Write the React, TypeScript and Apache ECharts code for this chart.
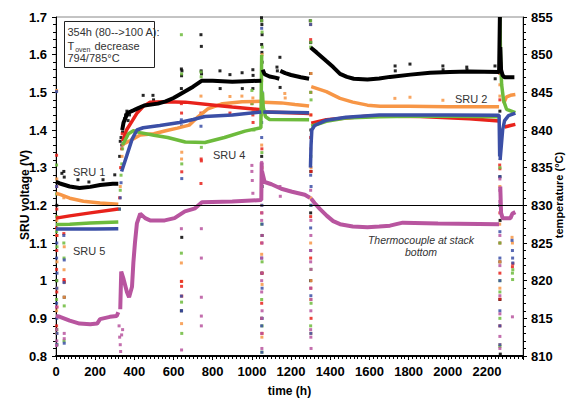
import React, { useEffect, useRef } from "react";
import * as echarts from "echarts";

type P = [number, number];

// Time axis (h) and tick settings
const timeTicks = { min: 0, max: 2384, step: 200 };
const voltTicks = { min: 0.8, max: 1.7, step: 0.1 };
const tempTicks = { min: 810, max: 855, step: 5 };

// SRU 1 (black) voltage, split at the interruptions
const sru1: P[][] = [
  [[0, 1.262], [20, 1.258], [70, 1.25], [120, 1.246], [175, 1.249], [225, 1.254], [290, 1.257], [318, 1.257]],
  [[338, 1.4], [345, 1.42], [365, 1.445], [395, 1.452], [420, 1.458], [450, 1.465], [520, 1.47], [560, 1.476], [600, 1.485], [640, 1.497], [700, 1.515], [745, 1.531], [800, 1.531], [900, 1.528], [1000, 1.53], [1048, 1.531]],
  [[1055, 1.56], [1065, 1.548], [1090, 1.542], [1120, 1.539], [1140, 1.536]],
  [[1145, 1.557], [1170, 1.551], [1200, 1.546], [1250, 1.54], [1292, 1.536]],
  [[1300, 1.619], [1330, 1.606], [1380, 1.583], [1415, 1.567], [1450, 1.549], [1485, 1.541], [1520, 1.536], [1590, 1.534], [1650, 1.537], [1705, 1.541], [1810, 1.547], [1910, 1.552], [2010, 1.554], [2110, 1.555], [2262, 1.554], [2266, 1.7]],
  [[2268, 1.62], [2272, 1.56], [2280, 1.545], [2290, 1.54], [2340, 1.54]],
];

// SRU 2 (orange)
const sru2: P[][] = [
  [[0, 1.232], [20, 1.229], [70, 1.219], [140, 1.211], [225, 1.206], [318, 1.203]],
  [[340, 1.362], [380, 1.372], [430, 1.387], [500, 1.39], [560, 1.398], [620, 1.405], [680, 1.413], [725, 1.435], [775, 1.456], [850, 1.47], [950, 1.475], [1048, 1.476]],
  [[1058, 1.474], [1150, 1.472], [1220, 1.468], [1292, 1.464]],
  [[1303, 1.515], [1380, 1.502], [1450, 1.484], [1515, 1.474], [1590, 1.466], [1655, 1.463], [1800, 1.463], [2000, 1.462], [2262, 1.462]],
  [[2285, 1.47], [2300, 1.488], [2320, 1.492], [2345, 1.494]],
];

// SRU 3 (red)
const sru3: P[][] = [
  [[0, 1.166], [70, 1.172], [175, 1.18], [318, 1.19]],
  [[340, 1.37], [360, 1.4], [390, 1.425], [415, 1.446], [445, 1.462], [480, 1.474], [560, 1.475], [660, 1.474], [810, 1.466], [900, 1.461], [1048, 1.454]],
  [[1058, 1.448], [1200, 1.446], [1292, 1.444]],
  [[1303, 1.418], [1380, 1.427], [1480, 1.432], [1600, 1.437], [1860, 1.436], [2110, 1.43], [2262, 1.424]],
  [[2290, 1.408], [2320, 1.412], [2345, 1.415]],
];

// SRU 4 (green)
const sru4: P[][] = [
  [[0, 1.149], [70, 1.15], [175, 1.153], [318, 1.156]],
  [[340, 1.36], [370, 1.39], [395, 1.398], [430, 1.393], [500, 1.386], [570, 1.38], [660, 1.368], [760, 1.367], [860, 1.38], [965, 1.397], [1046, 1.406], [1050, 1.6]],
  [[1054, 1.5], [1058, 1.46], [1070, 1.435], [1090, 1.428], [1292, 1.427]],
  [[1303, 1.41], [1380, 1.423], [1480, 1.432], [1650, 1.435], [1900, 1.437], [2262, 1.435]],
  [[2266, 1.7], [2270, 1.58], [2275, 1.52], [2285, 1.478], [2300, 1.455], [2345, 1.446]],
];

// SRU 5 (blue)
const sru5: P[][] = [
  [[0, 1.137], [100, 1.137], [200, 1.137], [318, 1.138]],
  [[335, 1.29], [360, 1.33], [388, 1.375], [413, 1.4], [445, 1.406], [530, 1.412], [630, 1.42], [700, 1.428], [760, 1.436], [900, 1.44], [1048, 1.448]],
  [[1058, 1.448], [1292, 1.446]],
  [[1299, 1.3], [1302, 1.36], [1306, 1.4], [1320, 1.412], [1380, 1.426], [1480, 1.434], [1650, 1.44], [2000, 1.44], [2262, 1.439], [2265, 1.33]],
  [[2267, 1.32], [2280, 1.4], [2290, 1.425], [2310, 1.438], [2345, 1.445]],
];

// Thermocouple at stack bottom (°C, right axis)
const thermo: P[][] = [
  [[0, 815.3], [20, 815.2], [70, 814.7], [120, 814.3], [175, 814.2], [210, 814.3], [225, 814.9], [275, 815.2], [310, 815.3], [318, 815.8]],
  [[328, 816.2], [333, 821.2], [345, 820.2], [362, 818.5], [373, 817.8], [388, 819.2], [395, 822.4], [403, 825], [413, 827.6], [430, 828.9], [455, 828.3], [480, 828], [555, 828], [605, 828.3], [658, 829.2], [710, 829.6], [745, 830.4], [900, 830.5], [1048, 830.7], [1050, 835.7]],
  [[1052, 834.5], [1065, 833.1], [1100, 832.8], [1150, 832.2], [1205, 831.8], [1270, 831.4], [1296, 831]],
  [[1302, 830.9], [1320, 830.3], [1348, 829.5], [1383, 828.6], [1415, 827.9], [1450, 827.5], [1515, 827.2], [1590, 827.1], [1650, 827.2], [1705, 827.3], [1770, 827.7], [1950, 827.6], [2262, 827.5]],
  [[2268, 832.5], [2272, 829], [2280, 828.3], [2320, 828.3], [2330, 828.9], [2345, 829.1]],
];

// Scattered readings around start-ups, load changes and interruptions
const sru1Dots: P[] = [
  [30, 1.285], [40, 1.29], [42, 1.275], [112, 1.268], [168, 1.262], [240, 1.268], [300, 1.281], [42, 0.956],
  [4, 1.2], [3, 1.0], [3, 0.87],
  [325, 1.33], [328, 1.37], [332, 1.38], [336, 1.36], [340, 1.395], [350, 1.43], [355, 1.44], [362, 1.45], [368, 1.425], [375, 1.44],
  [445, 1.492], [495, 1.492], [498, 1.48],
  [640, 1.562], [643, 1.557], [641, 1.544], [640, 1.51], [642, 1.115], [640, 0.92],
  [740, 1.653], [742, 1.622], [741, 1.557], [743, 1.549],
  [837, 1.557], [838, 1.51], [888, 1.547], [950, 1.552], [951, 1.51], [1005, 1.56], [1006, 1.545], [1004, 1.531], [1005, 1.51],
  [1049, 1.698], [1050, 1.69], [1051, 1.68], [1052, 1.653], [1050, 1.627], [1051, 1.606], [1052, 1.58], [1050, 1.45], [1050, 1.33], [1051, 1.25], [1052, 1.12], [1051, 1.02], [1050, 0.9],
  [1128, 1.567], [1130, 1.557], [1143, 1.593], [1144, 1.513],
  [1298, 1.69], [1299, 1.68], [1300, 1.632], [1300, 1.55], [1301, 1.4], [1301, 1.29], [1300, 1.18], [1300, 1.0],
  [1731, 1.57], [1732, 1.557], [1807, 1.575], [1975, 1.57], [1976, 1.56], [2097, 1.567], [2098, 1.56], [2241, 1.57], [2242, 1.536],
  [2266, 1.45], [2265, 1.35], [2266, 1.276], [2267, 1.16], [2266, 1.05], [2266, 0.95], [2268, 0.805],
];

const sru2Dots: P[] = [
  [3, 1.505], [4, 1.27], [4, 1.16], [3, 1.12], [5, 1.05], [4, 0.98], [3, 0.92], [3, 0.86],
  [40, 1.22], [42, 1.09], [41, 1.029], [43, 0.995], [42, 0.956],
  [324, 1.19], [328, 1.25], [333, 1.3], [337, 1.33], [341, 1.36],
  [640, 1.497], [642, 1.341], [641, 1.323], [640, 1.047], [642, 0.998], [641, 0.886],
  [740, 1.49], [888, 1.489], [949, 1.49], [1005, 1.485], [1006, 1.45], [1168, 1.497], [1170, 1.485],
  [1050, 1.531], [1052, 1.6], [1051, 1.44], [1050, 1.36], [1052, 1.3], [1050, 1.2], [1050, 1.07], [1052, 0.99], [1050, 0.9], [1051, 0.85],
  [1300, 1.68], [1302, 1.55], [1301, 1.44], [1300, 1.35], [1302, 1.3], [1300, 1.22], [1300, 1.1], [1302, 1.0], [1300, 0.95], [1301, 0.86],
  [1730, 1.484], [1807, 1.487], [1975, 1.479],
  [2265, 1.68], [2265, 1.64], [2266, 1.6], [2266, 1.52], [2266, 1.49], [2266, 1.4], [2266, 1.25], [2265, 1.15], [2266, 1.05], [2266, 0.98], [2266, 0.83],
  [2328, 1.115], [2330, 1.1],
];

const sru3Dots: P[] = [
  [3, 1.333], [4, 1.25], [4, 1.19], [3, 1.14], [5, 1.12], [4, 1.08], [3, 1.03], [4, 0.97], [5, 0.93], [3, 0.88],
  [40, 1.125], [42, 0.998], [41, 1.003],
  [325, 1.22], [330, 1.3], [335, 1.35], [338, 1.39],
  [640, 1.47], [641, 1.445], [642, 1.289], [640, 0.998], [641, 0.985], [642, 0.959],
  [740, 1.445], [741, 1.323], [742, 1.318], [740, 1.258],
  [888, 1.445], [1005, 1.44], [1006, 1.42], [1000, 1.47],
  [1050, 1.55], [1051, 1.47], [1051, 1.35], [1052, 1.28], [1050, 1.18], [1050, 1.1], [1052, 1.02], [1050, 0.94], [1052, 0.86],
  [1300, 1.64], [1301, 1.5], [1301, 1.44], [1300, 1.38], [1302, 1.29], [1300, 1.17], [1300, 1.06], [1301, 0.98], [1302, 0.9],
  [2265, 1.66], [2266, 1.55], [2266, 1.48], [2266, 1.38], [2265, 1.307], [2266, 1.297], [2266, 1.18], [2266, 1.1], [2266, 1.02], [2266, 0.951], [2266, 0.88],
  [2330, 1.037], [2332, 1.045],
];

const sru4Dots: P[] = [
  [3, 1.307], [3, 1.23], [4, 1.17], [3, 1.13], [5, 1.09], [4, 1.0], [3, 0.95], [4, 0.87], [5, 0.83],
  [40, 1.1], [41, 1.06], [42, 0.933], [41, 0.84],
  [324, 1.19], [328, 1.24], [332, 1.28], [336, 1.31], [340, 1.35],
  [640, 1.653], [641, 1.549], [642, 1.31], [640, 1.073], [641, 0.943], [642, 0.86],
  [740, 1.554], [741, 1.541], [742, 1.354],
  [1000, 1.505], [1001, 1.47], [1002, 1.445], [1010, 1.4],
  [1050, 1.69], [1052, 1.66], [1053, 1.62], [1050, 1.47], [1051, 1.34], [1051, 1.25], [1050, 1.15], [1052, 1.05], [1050, 0.95], [1052, 0.88], [1051, 0.81],
  [1300, 1.69], [1301, 1.633], [1300, 1.62], [1300, 1.5], [1302, 1.48], [1301, 1.33], [1300, 1.2], [1301, 1.03], [1302, 0.94], [1300, 0.88],
  [2266, 1.3], [2266, 1.2], [2266, 1.1], [2266, 1.0], [2266, 0.97], [2266, 0.9], [2266, 0.825],
  [2330, 1.02], [2331, 1.003], [2332, 1.029],
];

const sru5Dots: P[] = [
  [3, 1.502], [3, 1.25], [4, 1.1], [3, 1.06], [5, 1.02], [4, 0.98], [3, 0.94], [4, 0.9], [5, 0.86], [4, 0.83],
  [40, 1.12], [42, 1.055], [41, 0.995], [42, 0.834],
  [324, 1.19], [328, 1.22], [332, 1.26],
  [640, 1.427], [641, 1.411], [642, 1.271], [640, 0.959], [641, 0.92],
  [740, 1.41],
  [1050, 1.67], [1052, 1.5], [1050, 1.42], [1050, 1.38], [1051, 1.25], [1051, 1.2], [1052, 1.15], [1050, 1.06], [1052, 0.98], [1052, 0.9], [1050, 0.88], [1051, 0.81],
  [1300, 1.68], [1300, 1.28], [1302, 1.25], [1302, 1.2], [1300, 1.14], [1300, 1.08], [1301, 0.96], [1301, 0.86],
  [2265, 1.66], [2266, 1.276], [2266, 1.2], [2266, 1.13], [2266, 1.06], [2266, 1.0], [2266, 0.92], [2266, 0.88], [2266, 0.83],
  [2328, 1.107], [2330, 1.08], [2331, 1.06], [2332, 1.047],
];

const thermoDots: P[] = [
  [3, 816.5], [3, 813.5], [4, 812], [3, 811.4],
  [42, 812.3], [42, 813],
  [322, 814], [325, 812.5], [328, 811.5], [330, 810.6], [335, 812.8], [340, 813.5],
  [640, 826.9], [641, 810.8],
  [742, 826.9], [742, 823], [742, 817.8], [742, 815.3], [742, 814],
  [1000, 835.3], [1000, 834.5], [1002, 833.3], [1005, 831.6],
  [1050, 835.7], [1051, 834.5], [1051, 829], [1050, 828], [1052, 826], [1052, 825], [1050, 823], [1051, 821], [1050, 820], [1050, 818.5], [1052, 816], [1050, 815], [1050, 813], [1051, 811],
  [1143, 832.5], [1145, 831.2],
  [1300, 832], [1301, 828], [1301, 826], [1300, 824], [1300, 822.5], [1302, 821.5], [1300, 819], [1302, 817.5], [1301, 816], [1300, 813.5], [1301, 812.5], [1302, 811],
  [2266, 833.5], [2266, 832], [2266, 830.5], [2266, 826], [2266, 822], [2266, 818], [2266, 815.6], [2266, 812.6], [2266, 811],
  [2330, 815.2],
];

const referenceVoltage = 1.2;

const COLORS = {
  sru1: "#000000",
  sru2: "#f79646",
  sru3: "#e8221b",
  sru4: "#6dbb3c",
  sru5: "#3b4fa6",
  thermo: "#b8559f",
};

const FONT = "'Liberation Sans', Arial, sans-serif";

function joinSegments(segs: P[][]): (number | string)[][] {
  const out: (number | string)[][] = [];
  segs.forEach((seg, i) => {
    if (i > 0) {
      const prev = segs[i - 1];
      out.push([(prev[prev.length - 1][0] + seg[0][0]) / 2, "-"]);
    }
    seg.forEach((p) => out.push([p[0], p[1]]));
  });
  return out;
}

function lineSeries(name: string, segs: P[][], color: string, width: number, yAxisIndex = 0, extra: any = {}) {
  return {
    name,
    type: "line",
    yAxisIndex,
    data: joinSegments(segs),
    showSymbol: false,
    connectNulls: false,
    lineStyle: { color, width },
    itemStyle: { color },
    silent: true,
    ...extra,
  };
}

function dotSeries(name: string, pts: P[], color: string, yAxisIndex = 0) {
  return {
    name,
    type: "scatter",
    yAxisIndex,
    data: pts,
    symbol: "rect",
    symbolSize: 3,
    itemStyle: { color, opacity: 0.85 },
    silent: true,
  };
}

const tickLabel = { fontFamily: FONT, fontWeight: "bold" as const, fontSize: 13, color: "#000" };

export default function App() {
  const ref = useRef<HTMLDivElement>(null);

  useEffect(() => {
    if (!ref.current) return;
    const chart = echarts.init(ref.current, null, { renderer: "svg" });

    chart.setOption({
      animation: false,
      backgroundColor: "#ffffff",
      grid: { left: 56, right: 43, top: 17, bottom: 39, show: true, borderColor: "#888", borderWidth: 1 },
      xAxis: {
        type: "value",
        min: timeTicks.min,
        max: timeTicks.max,
        interval: timeTicks.step,
        name: "time (h)",
        nameLocation: "middle",
        nameGap: 29,
        nameTextStyle: { fontFamily: FONT, fontWeight: "bold", fontSize: 12, color: "#000" },
        axisLine: { lineStyle: { color: "#000", width: 2 } },
        axisTick: { length: 4, lineStyle: { color: "#000" } },
        minorTick: { show: true, splitNumber: 10, length: 3, lineStyle: { color: "#000" } },
        splitLine: { show: false },
        axisLabel: {
          ...tickLabel,
          margin: 9,
          formatter: (v: number) => (v % timeTicks.step === 0 ? String(v) : ""),
        },
      },
      yAxis: [
        {
          type: "value",
          min: voltTicks.min,
          max: voltTicks.max,
          interval: voltTicks.step,
          axisLine: { show: true, lineStyle: { color: "#000", width: 1 } },
          axisTick: { show: true, length: 4, lineStyle: { color: "#000" } },
          minorTick: { show: true, splitNumber: 5, length: 3, lineStyle: { color: "#000" } },
          splitLine: { show: false },
          axisLabel: { ...tickLabel, margin: 9 },
        },
        {
          type: "value",
          position: "right",
          min: tempTicks.min,
          max: tempTicks.max,
          interval: tempTicks.step,
          axisLine: { show: true, lineStyle: { color: "#000", width: 1 } },
          axisTick: { show: true, length: 4, lineStyle: { color: "#000" } },
          minorTick: { show: true, splitNumber: 5, length: 3, lineStyle: { color: "#000" } },
          splitLine: { show: false },
          axisLabel: { ...tickLabel, margin: 8 },
        },
      ],
      series: [
        dotSeries("SRU 1 dots", sru1Dots, COLORS.sru1),
        dotSeries("SRU 2 dots", sru2Dots, COLORS.sru2),
        dotSeries("SRU 3 dots", sru3Dots, COLORS.sru3),
        dotSeries("SRU 4 dots", sru4Dots, COLORS.sru4),
        dotSeries("SRU 5 dots", sru5Dots, COLORS.sru5),
        dotSeries("Thermocouple dots", thermoDots, COLORS.thermo, 1),
        lineSeries("Thermocouple", thermo, COLORS.thermo, 4, 1),
        lineSeries("SRU 2", sru2, COLORS.sru2, 3.5),
        lineSeries("SRU 3", sru3, COLORS.sru3, 3.5),
        lineSeries("SRU 4", sru4, COLORS.sru4, 3.5),
        lineSeries("SRU 5", sru5, COLORS.sru5, 3.5),
        lineSeries("SRU 1", sru1, COLORS.sru1, 4, 0, {
          markLine: {
            silent: true,
            symbol: "none",
            label: { show: false },
            lineStyle: { color: "#000", width: 1, type: "solid" },
            data: [{ yAxis: referenceVoltage }],
            z: 10,
          },
        }),
      ],
      graphic: [
        {
          type: "group",
          left: 64,
          top: 21,
          children: [
            { type: "rect", shape: { x: 0, y: 0, width: 90, height: 46 }, style: { fill: "#fff", stroke: "#222", lineWidth: 1 } },
            { type: "text", x: 3, y: 5, style: { text: "354h (80-->100 A):", font: `11px ${FONT}`, fill: "#333" } },
            {
              type: "text",
              x: 3,
              y: 18,
              style: {
                text: "T{s|oven} decrease",
                font: `11px ${FONT}`,
                fill: "#333",
                rich: { s: { fontSize: 7, fontFamily: FONT, fill: "#333", padding: [6, 1, 0, 1] } },
              },
            },
            { type: "text", x: 3, y: 31, style: { text: "794/785°C", font: `11px ${FONT}`, fill: "#333" } },
          ],
        },
        { type: "text", x: 73, y: 166, style: { text: "SRU 1", font: `11px ${FONT}`, fill: "#333" } },
        { type: "text", x: 73, y: 245, style: { text: "SRU 5", font: `11px ${FONT}`, fill: "#333" } },
        { type: "text", x: 213, y: 149, style: { text: "SRU 4", font: `11px ${FONT}`, fill: "#333" } },
        { type: "text", x: 455, y: 93, style: { text: "SRU 2", font: `11px ${FONT}`, fill: "#333" } },
        {
          type: "text",
          x: 421,
          y: 234,
          style: {
            text: "Thermocouple at stack\nbottom",
            font: `italic 10.5px ${FONT}`,
            fill: "#333",
            align: "center",
            lineHeight: 12,
          },
        },
        {
          type: "text",
          x: 25,
          y: 195,
          rotation: Math.PI / 2,
          style: { text: "SRU voltage (V)", font: `bold 12px ${FONT}`, fill: "#000", align: "center", verticalAlign: "middle" },
        },
        {
          type: "text",
          x: 559,
          y: 195,
          rotation: Math.PI / 2,
          style: { text: "temperature (°C)", font: `bold 11px ${FONT}`, fill: "#000", align: "center", verticalAlign: "middle" },
        },
      ],
    });

    return () => chart.dispose();
  }, []);

  return (
    <div
      ref={ref}
      style={{ position: "fixed", left: 0, top: 0, width: 566, height: 402, background: "#fff" }}
    />
  );
}
